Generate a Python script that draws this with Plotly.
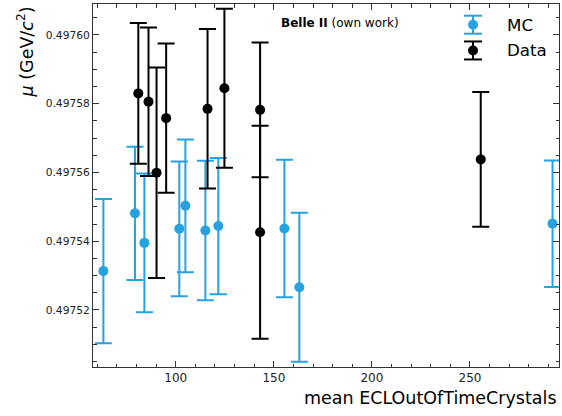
import plotly.graph_objects as go

# ---- data ----
mc_x = [63.1, 79.2, 84.0, 101.8, 104.9, 115.1, 121.7, 155.4, 163.0, 292.1]
mc_y = [0.4975313, 0.4975481, 0.4975395, 0.4975436, 0.4975503,
        0.4975431, 0.4975444, 0.4975437, 0.4975266, 0.4975451]
mc_err = [2.10e-5, 1.94e-5, 2.02e-5, 1.96e-5, 1.93e-5,
          2.03e-5, 1.98e-5, 2.00e-5, 2.17e-5, 1.84e-5]

data_x = [80.9, 86.1, 90.2, 95.1, 116.2, 124.8, 143.0, 143.0, 255.5]
data_y = [0.4975830, 0.4975806, 0.4975599, 0.4975758, 0.4975785,
          0.4975845, 0.4975782, 0.4975426, 0.4975638]
data_err = [2.05e-5, 2.16e-5, 3.06e-5, 2.17e-5, 2.32e-5,
            2.31e-5, 1.96e-5, 3.10e-5, 1.96e-5]

series_names = ["MC", "Data"]
x_title = "mean ECLOutOfTimeCrystals"
y_title = "<i>μ</i> (GeV/<i>c</i><sup>2</sup>)"
label_text = "<b>Belle II</b> (own work)"

BLUE = "#27a2e0"
BLACK = "#000000"
FONT = "DejaVu Sans"

fig = go.Figure()
fig.add_trace(go.Scatter(
    x=mc_x, y=mc_y, mode="markers", name=series_names[0],
    marker=dict(color=BLUE, size=10),
    error_y=dict(type="data", array=mc_err, color=BLUE, thickness=2, width=8.5),
    showlegend=False))
fig.add_trace(go.Scatter(
    x=data_x, y=data_y, mode="markers", name=series_names[1],
    marker=dict(color=BLACK, size=10),
    error_y=dict(type="data", array=data_err, color=BLACK, thickness=2, width=8.5),
    showlegend=False))

axis_common = dict(
    showgrid=False, zeroline=False, showline=True, linecolor="#333333", linewidth=1,
    mirror="allticks", ticks="inside", ticklen=6, tickwidth=1, tickcolor="#333333",
)
fig.update_xaxes(range=[57.8, 295.4], dtick=50, tick0=0,
                 tickfont=dict(family=FONT, size=12, color="#222222"),
                 minor=dict(ticks="inside", ticklen=3.5, dtick=10, tickcolor="#333333"),
                 **axis_common)
fig.update_yaxes(range=[0.4975034, 0.4976090], dtick=0.00002, tick0=0.49750,
                 tickformat=".5f",
                 tickfont=dict(family=FONT, size=10.7, color="#222222"),
                 minor=dict(ticks="inside", ticklen=3.5, dtick=0.000005, tickcolor="#333333"),
                 **axis_common)

# custom legend (error-bar glyphs)
leg_x = 0.8155
leg_rows = [(0.943, BLUE, series_names[0]), (0.872, BLACK, series_names[1])]
for yc, col, name in leg_rows:
    fig.add_shape(type="line", xref="paper", yref="paper", xsizemode="pixel", ysizemode="pixel",
                  xanchor=leg_x, yanchor=yc, x0=0, x1=0, y0=-9, y1=9,
                  line=dict(color=col, width=2))
    for yy in (-9, 9):
        fig.add_shape(type="line", xref="paper", yref="paper", xsizemode="pixel", ysizemode="pixel",
                      xanchor=leg_x, yanchor=yc, x0=-9, x1=9, y0=yy, y1=yy,
                      line=dict(color=col, width=2))
    fig.add_shape(type="circle", xref="paper", yref="paper", xsizemode="pixel", ysizemode="pixel",
                  xanchor=leg_x, yanchor=yc, x0=-5, x1=5, y0=-5, y1=5,
                  fillcolor=col, line=dict(color=col, width=0))
    fig.add_annotation(x=0.884, y=yc, xref="paper", yref="paper", text=name,
                       showarrow=False, xanchor="left", yanchor="middle",
                       font=dict(family=FONT, size=16.7, color="#000000"))

fig.add_annotation(x=0.399, y=0.949, xref="paper", yref="paper", text=label_text,
                   showarrow=False, xanchor="left", yanchor="middle",
                   font=dict(family=FONT, size=12, color="#000000"))

fig.add_annotation(x=1.0, y=-0.085, xref="paper", yref="paper", text=x_title,
                   showarrow=False, xanchor="right", yanchor="middle",
                   font=dict(family=FONT, size=17.5, color="#000000"))
fig.add_annotation(x=-0.146, y=1.0, xref="paper", yref="paper", text=y_title,
                   showarrow=False, xanchor="center", yanchor="top", textangle=-90,
                   font=dict(family=FONT, size=17.5, color="#000000"))

fig.update_layout(
    width=562, height=416,
    margin=dict(l=93, r=3, t=4, b=49),
    paper_bgcolor="white", plot_bgcolor="white",
    font=dict(family=FONT),
)
fig.write_html("out.html")
